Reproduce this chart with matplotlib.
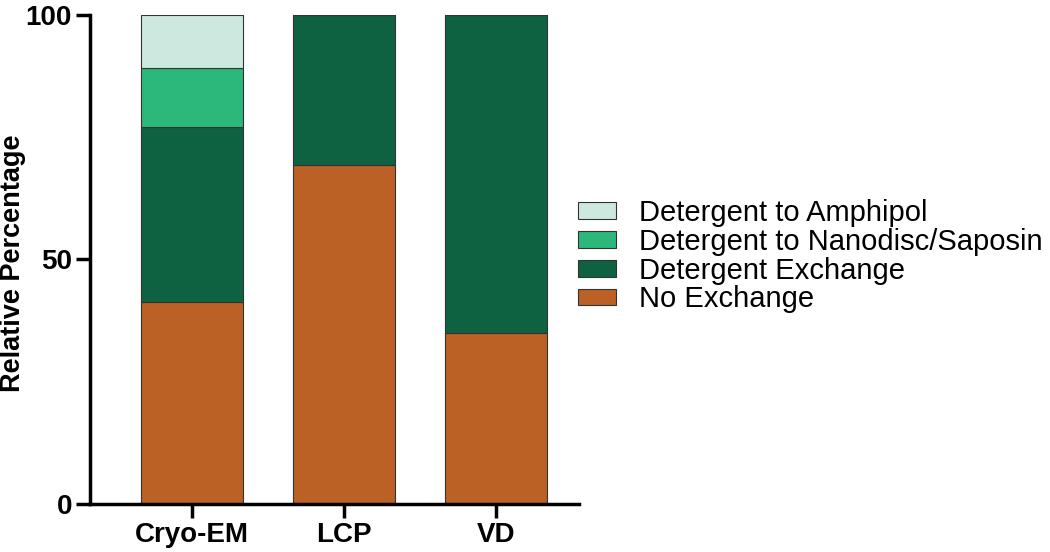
import numpy as np
import matplotlib.pyplot as plt

methods = ['Cryo-EM', 'LCP', 'VD']
series = ['No Exchange', 'Detergent Exchange', 'Detergent to Nanodisc/Saposin', 'Detergent to Amphipol']
no_exchange = [41.4, 69.4, 35.0]
det_exchange = [35.6, 30.6, 65.0]
det_nanodisc = [12.1, 0.0, 0.0]
det_amphipol = [10.9, 0.0, 0.0]
colors = ['#bb6125', '#0e6241', '#2bb87a', '#cde9df']

plt.rcParams['font.family'] = ['Liberation Sans', 'DejaVu Sans']

fig = plt.figure(figsize=(10.5, 5.52), dpi=100)
ax = fig.add_axes([0.0857, 0.087, 0.466, 0.886])

x = np.arange(len(methods))
bottom = np.zeros(len(methods))
handles = []
for vals, name, c in zip([no_exchange, det_exchange, det_nanodisc, det_amphipol], series, colors):
    b = ax.bar(x, vals, 0.67, bottom=bottom, color=c, edgecolor='#333333', linewidth=0.8, label=name)
    handles.append(b)
    bottom += np.array(vals)

ax.set_xlim(-0.67, 2.55)
ax.set_ylim(0, 100)
ax.set_yticks([0, 50, 100])
ax.set_xticks(x)
ax.set_xticklabels(methods)
ax.set_ylabel('Relative Percentage', fontsize=19.5, fontweight='bold')
ax.yaxis.set_label_coords(-0.13, 0.492)
for lab in ax.get_xticklabels() + ax.get_yticklabels():
    lab.set_fontweight('bold')
    lab.set_fontsize(20)
ax.tick_params(axis='both', width=2.5, length=10, direction='out', pad=3)
ax.spines['top'].set_visible(False)
ax.spines['right'].set_visible(False)
ax.spines['left'].set_linewidth(2.5)
ax.spines['bottom'].set_linewidth(2.5)

leg = fig.legend(handles[::-1], series[::-1], loc='center left', bbox_to_anchor=(0.5505, 0.536),
                 frameon=False, fontsize=21, handlelength=1.3, handleheight=0.5,
                 labelspacing=0.03, handletextpad=0.8, borderaxespad=0, borderpad=0)

fig.savefig('out.png', dpi=100)
